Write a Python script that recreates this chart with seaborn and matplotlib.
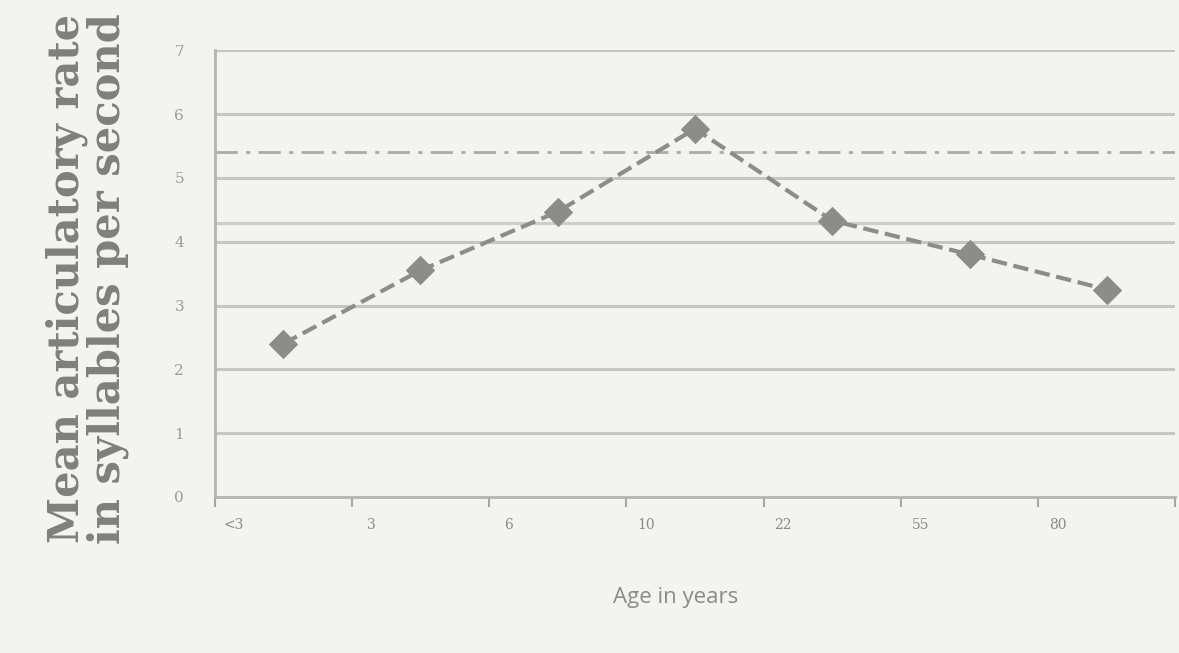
import numpy as np
import pandas as pd
import matplotlib
matplotlib.use("Agg")
import matplotlib.pyplot as plt
import matplotlib.transforms as mtrans
import seaborn as sns

# data
age_groups = ["<3", "3", "6", "10", "22", "55", "80"]
rate = [2.4, 3.55, 4.47, 5.77, 4.33, 3.8, 3.25]
adult_ref = 5.4
extra_line = 4.3

df = pd.DataFrame({"pos": np.arange(len(age_groups)), "rate": rate})

sns.set_style("white")
bg = "#f3f4f1"
fig = plt.figure(figsize=(11.79, 6.53), dpi=100, facecolor=bg)
ax = fig.add_axes([0.182, 0.239, 0.815, 0.684], facecolor=bg)

# grid lines
for v in range(1, 8):
    ax.axhline(v, color="#c4c6c2", lw=2.2, zorder=0)
ax.axhline(extra_line, color="#cbcdc9", lw=2.2, zorder=0)
ax.axhline(adult_ref, color="#a9aba8", lw=2, ls=(0, (8, 3, 1.5, 3)), zorder=1)

sns.lineplot(data=df, x="pos", y="rate", ax=ax, color="#8c8d8b", lw=3,
             ls="--", marker="D", markersize=14, markeredgecolor="#8c8d8b",
             zorder=3)

ax.set_xlim(-0.5, 6.5)
ax.set_ylim(0, 7)
ax.set_xticks(np.arange(-0.5, 7, 1))
ax.set_xticklabels(age_groups + [""], color="#8a8b89", fontsize=10,
                   family="DejaVu Serif")
ax.set_yticks(range(0, 8))
ax.set_yticklabels([str(v) for v in range(0, 8)], color="#9a9b99",
                   fontsize=11, family="DejaVu Serif")
ax.tick_params(axis="x", bottom=True, direction="out", length=7,
               color="#a5a7a4", width=1.5, pad=8)
ax.tick_params(axis="y", length=0, pad=22)
shift = mtrans.ScaledTranslation(14 / 72, 0, fig.dpi_scale_trans)
for lbl in ax.get_xticklabels():
    lbl.set_transform(lbl.get_transform() + shift)

for s in ["top", "right"]:
    ax.spines[s].set_visible(False)
ax.spines["left"].set_color("#b3b5b2")
ax.spines["left"].set_linewidth(2)
ax.spines["bottom"].set_color("#b3b5b2")
ax.spines["bottom"].set_linewidth(2)

ax.set_xlabel("")
ax.set_ylabel("")
fig.text(0.573, 0.085, "Age in years", ha="center", va="center",
         fontsize=16, color="#8a8b89", family="Open Sans")
fig.text(0.074, 0.574, "Mean articulatory rate\nin syllables per second",
         rotation=90, ha="center", va="center", fontsize=30,
         fontweight="bold", color="#7f807e", family="DejaVu Serif",
         linespacing=0.95)

fig.savefig("out.png", dpi=100, facecolor=bg)
